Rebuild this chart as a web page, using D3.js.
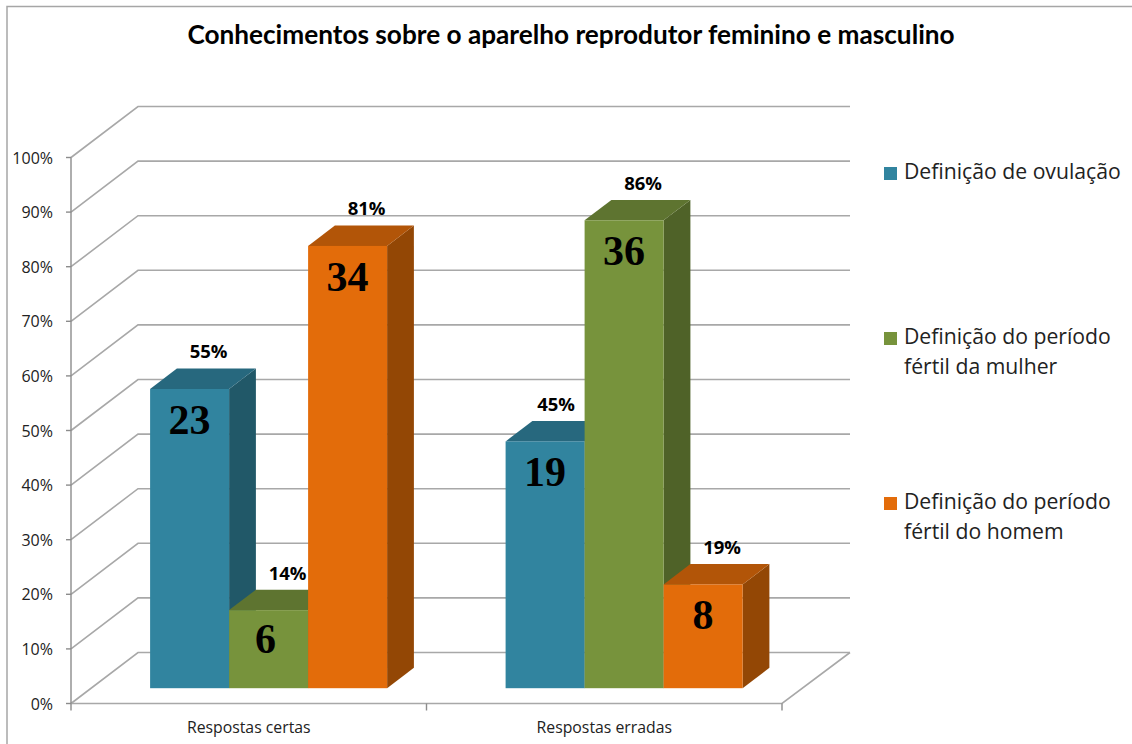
<!DOCTYPE html>
<html>
    <head>
        <title>Conhecimentos sobre o aparelho reprodutor</title>
        <meta charset="UTF-8">
        <script src="https://cdn.jsdelivr.net/npm/d3@7"></script>
        <style>
            body{ margin:0; background:#fff; }
            svg{ display:block; }
        </style>
    </head>
    <body>
        <div id="chart"></div>
    </body>

    <script>
        const titleText = "Conhecimentos sobre o aparelho reprodutor feminino e masculino"
        const categories = ["Respostas certas", "Respostas erradas"]
        const seriesNames = ["ovulacao", "mulher", "homem"]
        const legendLines = [
            ["Definição de ovulação"],
            ["Definição do período", "fértil da mulher"],
            ["Definição do período", "fértil do homem"]
        ]
        const percents = [[54.8, 14.3, 81], [45.2, 85.7, 19]]
        const counts = [[23, 6, 34], [19, 36, 8]]
        const yTicks = [0, 10, 20, 30, 40, 50, 60, 70, 80, 90, 100]

        const frontColors = ["#31849f", "#77933c", "#e36c0a"]
        const topColors = ["#27687e", "#5e7430", "#b25508"]
        const sideColors = ["#215868", "#4f6228", "#934705"]

        const width = 1132
        const height = 744
        const depthX = 67
        const depthY = 51

        let svg = d3.select("#chart").append("svg")
            .attr("width", width)
            .attr("height", height)

        let x0 = d3.scaleBand().domain(d3.range(categories.length)).range([71, 782])
        let x1 = d3.scaleBand().domain(d3.range(seriesNames.length)).range([59, 296])
        let y = d3.scaleLinear().domain([0, 100]).range([703.5, 157.5])

        // projection of a chart point onto the page, d = 0 front, d = 1 back wall
        let px = (x, d) => x + depthX * d
        let py = (v, d) => y(v) - depthY * d
        let poly = pts => pts.map(p => p.join(",")).join(" ")

        // outer frame, the picture is cropped so only top and left show
        svg.append("rect")
            .attr("x", 7).attr("y", 6.5)
            .attr("width", 1200).attr("height", 800)
            .attr("fill", "none")
            .attr("stroke", "#a6a6a6")
            .attr("stroke-width", 1.5)

        svg.append("text")
            .attr("x", 571).attr("y", 44)
            .attr("text-anchor", "middle")
            .attr("font-family", "Lato")
            .attr("font-weight", "bold")
            .attr("font-size", 26.2)
            .attr("fill", "#000")
            .text(titleText)

        // grid lines: side wall and back wall
        let grid = svg.append("g")
            .attr("fill", "none")
            .attr("stroke", "#a8a8a8")
            .attr("stroke-width", 1.6)

        grid.selectAll("path")
            .data(yTicks)
            .join("path")
            .attr("d", d => d3.line()([[px(71, 0), py(d, 0)], [px(71, 1), py(d, 1)], [850, py(d, 1)]]))

        // floor, front edge and right edge
        grid.append("path")
            .attr("d", d3.line()([[71, y(0)], [782, y(0)], [850, py(0, 1)]]))

        let axisG = svg.append("g")
            .attr("stroke", "#8c8c8c")
            .attr("stroke-width", 1.4)
            .attr("fill", "none")

        axisG.append("path")
            .attr("d", d3.line()([[71, y(100)], [71, y(0)]]))

        axisG.selectAll(".ytick")
            .data(yTicks)
            .join("path")
            .attr("class", "ytick")
            .attr("d", d => d3.line()([[66, y(d)], [71, y(d)]]))

        axisG.selectAll(".xtick")
            .data([0, 1, 2])
            .join("path")
            .attr("class", "xtick")
            .attr("d", i => {
                let xx = 71 + x0.bandwidth() * i
                return d3.line()([[xx, y(0)], [xx, y(0) + 7]])
            })

        svg.append("g")
            .selectAll("text")
            .data(yTicks)
            .join("text")
            .attr("x", 53)
            .attr("y", d => y(d) + 6)
            .attr("text-anchor", "end")
            .attr("font-family", "Open Sans")
            .attr("font-size", 16)
            .attr("fill", "#222")
            .text(d => d + "%")

        svg.append("g")
            .selectAll("text")
            .data(categories)
            .join("text")
            .attr("x", (d, i) => x0(i) + x0.bandwidth() / 2)
            .attr("y", 733)
            .attr("text-anchor", "middle")
            .attr("font-family", "Open Sans")
            .attr("font-size", 15.8)
            .attr("fill", "#222")
            .text(d => d)

        // bars, drawn left to right so neighbours cover the hidden side faces
        let barD0 = 0.3
        let barD1 = 0.7

        categories.forEach((cat, c) => {
            let g = svg.append("g")
            seriesNames.forEach((name, s) => {
                let v = percents[c][s]
                let left = x0(c) + x1(s)
                let right = left + x1.bandwidth()

                g.append("polygon")
                    .attr("fill", sideColors[s])
                    .attr("points", poly([
                        [px(right, barD0), py(0, barD0)],
                        [px(right, barD1), py(0, barD1)],
                        [px(right, barD1), py(v, barD1)],
                        [px(right, barD0), py(v, barD0)]
                    ]))

                g.append("polygon")
                    .attr("fill", topColors[s])
                    .attr("points", poly([
                        [px(left, barD0), py(v, barD0)],
                        [px(left, barD1), py(v, barD1)],
                        [px(right, barD1), py(v, barD1)],
                        [px(right, barD0), py(v, barD0)]
                    ]))

                g.append("rect")
                    .attr("x", px(left, barD0))
                    .attr("y", py(v, barD0))
                    .attr("width", x1.bandwidth())
                    .attr("height", y(0) - y(v))
                    .attr("fill", frontColors[s])
            })
        })

        // labels after the bars so none of them gets covered
        categories.forEach((cat, c) => {
            seriesNames.forEach((name, s) => {
                let v = percents[c][s]
                let mid = x0(c) + x1(s) + x1.bandwidth() / 2
                // hand placed in the original: the 6 sits a bit left, the 45% clears the green bar
                let countDx = counts[c][s] == 6 ? -3 : 0
                let countDy = counts[c][s] == 6 ? -2 : 0
                let pctDx = c == 1 && s == 0 ? 11 : 19

                svg.append("text")
                    .attr("x", px(mid, barD0) + countDx)
                    .attr("y", py(v, barD0) + 45 + countDy)
                    .attr("text-anchor", "middle")
                    .attr("font-family", "Liberation Serif")
                    .attr("font-weight", "bold")
                    .attr("font-size", 42)
                    .attr("fill", "#000")
                    .text(counts[c][s])

                svg.append("text")
                    .attr("x", px(mid, barD0) + pctDx)
                    .attr("y", py(v, barD0) - 30.5)
                    .attr("text-anchor", "middle")
                    .attr("font-family", "Open Sans")
                    .attr("font-weight", "bold")
                    .attr("font-size", 18.5)
                    .attr("fill", "#000")
                    .text(Math.round(v) + "%")
            })
        })

        // legend
        let legendY = d3.scalePoint().domain(d3.range(3)).range([172, 502])

        let legend = svg.append("g")
            .selectAll("g")
            .data(legendLines)
            .join("g")
            .attr("transform", (d, i) => "translate(0," + legendY(i) + ")")

        legend.append("rect")
            .attr("x", 884).attr("y", -5)
            .attr("width", 13).attr("height", 13)
            .attr("fill", (d, i) => frontColors[i])

        legend.selectAll("text")
            .data(d => d)
            .join("text")
            .attr("x", 904)
            .attr("y", (d, i) => 7 + i * 30)
            .attr("font-family", "Open Sans")
            .attr("font-size", 21.2)
            .attr("fill", "#222")
            .text(d => d)
    </script>
</html>
